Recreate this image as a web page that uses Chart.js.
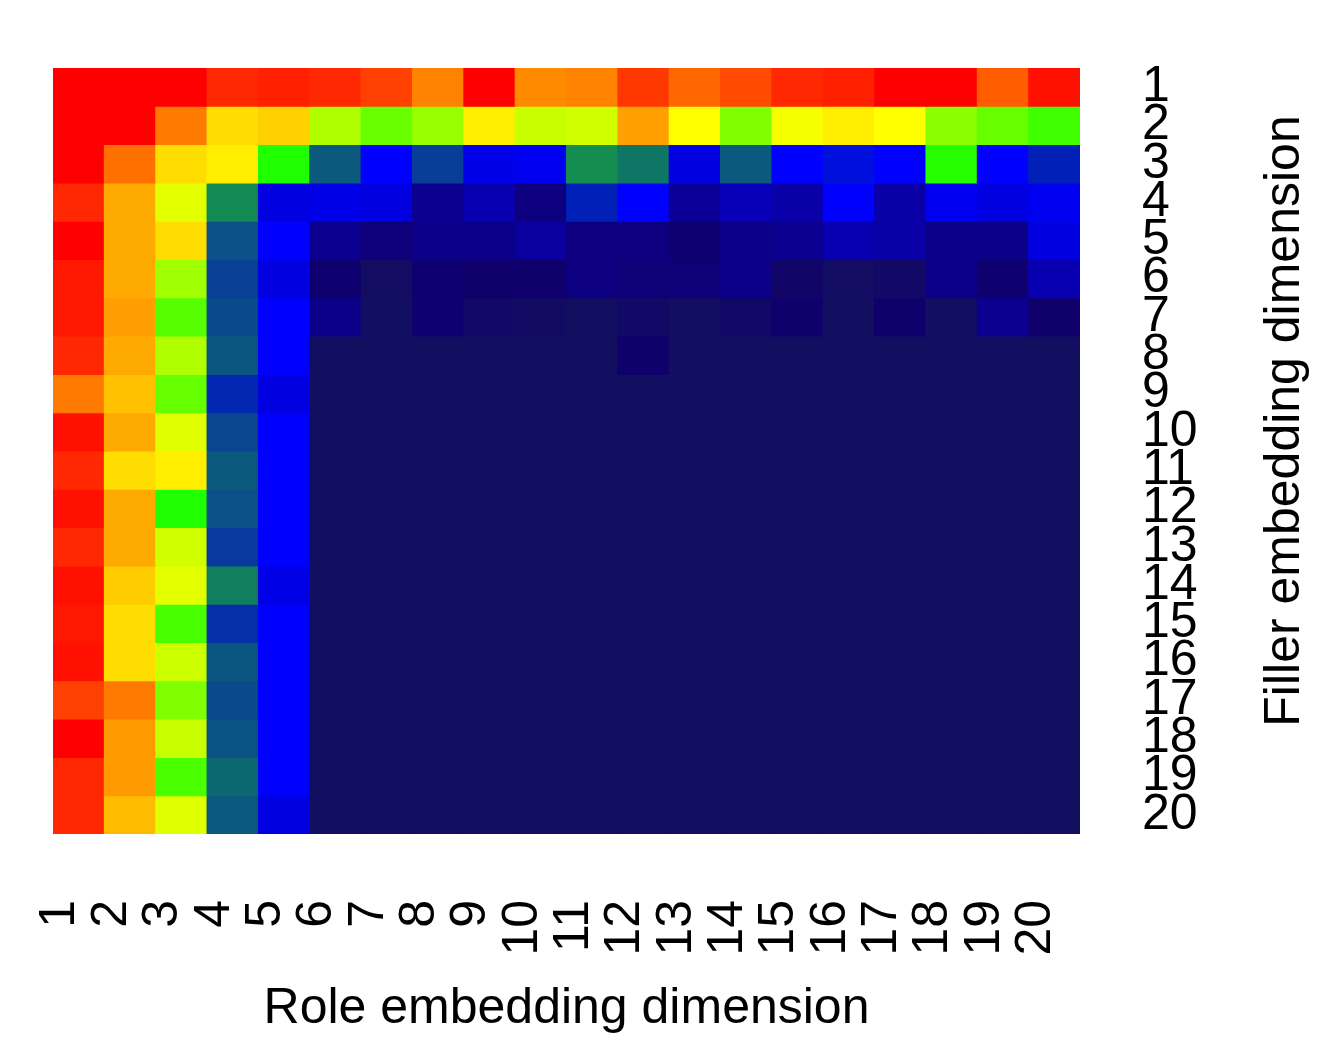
<!DOCTYPE html>
<html>
<head>
<meta charset="utf-8">
<script src="https://cdn.jsdelivr.net/npm/chart.js@4.4.1/dist/chart.umd.min.js"></script>
<style>
  html, body { margin: 0; padding: 0; background: #ffffff; }
  #wrap { width: 1318px; height: 1043px; position: relative; }
</style>
</head>
<body>
<div id="wrap"><canvas id="chart"></canvas></div>
<script>
// ---------------- data ----------------
const roleDims = [1,2,3,4,5,6,7,8,9,10,11,12,13,14,15,16,17,18,19,20];
const fillerDims = [1,2,3,4,5,6,7,8,9,10,11,12,13,14,15,16,17,18,19,20];
const roleTickLabels = ['1','2','3','4','5','6','7','8','9','10','11','12','13','14','15','16','17','18','19','20'];
const fillerTickLabels = ['1','2','3','4','5','6','7','8','9','10','11','12','13','14','15','16','17','18','19','20'];
const xTitle = 'Role embedding dimension';
const yTitle = 'Filler embedding dimension';

// rows = filler embedding dimension 1..20, columns = role embedding dimension 1..20 (relative score 0..100)
const heatValues = [
  [100,100,100,95,96,95,92,85,100,84,85,93,88,91,95,96,100,100,89,98],
  [100,100,86,74,75.5,60.5,55.4,58.8,71,62.4,63,81.2,68,57,67,71,68,57.7,55.2,52.3],
  [100,87,74,71,50,38,25,34,21.3,22.6,45,41.7,20,38,25,27.5,25,50.4,25,30],
  [95,80,65,44.5,20,21.3,20,10,14,7.6,30,25,11,15,13,25,13,22.6,20,22.6],
  [100,80,74,36.6,25,10,6.1,9,9,12,7.6,7.6,4.7,9,10,14,13,9,9,20],
  [97,80,59.4,34.3,20,4.7,0.5,4.7,4,4,7.6,6,6,9,2.5,0.5,1.5,9,4.7,14],
  [97,81.5,53.9,35.7,25,9,0,4.7,1.5,1,0,1.5,0,2,4,0,4,0,10,4],
  [95,80,60.6,37.3,25,0,0,0,0,0,0,4,0,0,0,0,0,0,0,0],
  [86,77.4,55,31,20,0,0,0,0,0,0,0,0,0,0,0,0,0,0,0],
  [98,80,64.7,35,25,0,0,0,0,0,0,0,0,0,0,0,0,0,0,0],
  [95,74,71,38,25,0,0,0,0,0,0,0,0,0,0,0,0,0,0,0],
  [98,80,50,36.6,25,0,0,0,0,0,0,0,0,0,0,0,0,0,0,0],
  [95,80,63,33.5,25,0,0,0,0,0,0,0,0,0,0,0,0,0,0,0],
  [98,76,65,43,21,0,0,0,0,0,0,0,0,0,0,0,0,0,0,0],
  [97,74,52.9,32,25,0,0,0,0,0,0,0,0,0,0,0,0,0,0,0],
  [98,74,62.7,37.3,25,0,0,0,0,0,0,0,0,0,0,0,0,0,0,0],
  [92,86,57,35.7,25,0,0,0,0,0,0,0,0,0,0,0,0,0,0,0],
  [100,82,62.4,36.9,25,0,0,0,0,0,0,0,0,0,0,0,0,0,0,0],
  [95,82,53,40,25,0,0,0,0,0,0,0,0,0,0,0,0,0,0,0],
  [95,78,64.7,37.7,20,0,0,0,0,0,0,0,0,0,0,0,0,0,0,0]
];

// ---------------- colour scale ----------------
const colorStops = [0, 4, 9, 14, 20, 25, 30, 35, 40, 45, 50, 57, 63, 68, 74, 80, 86, 92, 96, 100];
const stopColors = ['#120E60','#10006C','#0C0088','#0800B0','#0000E0','#0000FF','#0020B8','#0A4590',
                    '#0C6870','#148E50','#20FF00','#80FF00','#D0FF00','#FFFF00','#FFDD00','#FFAA00',
                    '#FF7A00','#FF4000','#FF2000','#FF0000'];

function hexToRgb(h) {
  return [parseInt(h.slice(1,3),16), parseInt(h.slice(3,5),16), parseInt(h.slice(5,7),16)];
}
function valueToColor(v) {
  if (v <= colorStops[0]) return stopColors[0];
  for (let i = 1; i < colorStops.length; i++) {
    if (v <= colorStops[i]) {
      const t = (v - colorStops[i-1]) / (colorStops[i] - colorStops[i-1]);
      const a = hexToRgb(stopColors[i-1]), b = hexToRgb(stopColors[i]);
      const c = a.map((x, k) => Math.round(x + (b[k] - x) * t));
      return 'rgb(' + c.join(',') + ')';
    }
  }
  return stopColors[stopColors.length - 1];
}

// ---------------- chart ----------------
const FONT = '"Liberation Sans", Arial, Helvetica, sans-serif';

const datasets = fillerDims.map((f, r) => ({
  label: 'Filler ' + f,
  data: roleDims.map(() => [f - 0.5, f + 0.5]),
  backgroundColor: heatValues[r].map(valueToColor),
  borderWidth: 0,
  grouped: false,
  categoryPercentage: 1,
  barPercentage: 1,
  inflateAmount: 0.5
}));

const yTitlePlugin = {
  id: 'yTitleRight',
  afterDraw(chart) {
    const { ctx, chartArea } = chart;
    ctx.save();
    ctx.translate(chart.width - 19, (chartArea.top + chartArea.bottom) / 2 - 30);
    ctx.rotate(-Math.PI / 2);
    ctx.font = '50px ' + FONT;
    ctx.fillStyle = '#000000';
    ctx.textAlign = 'center';
    ctx.textBaseline = 'alphabetic';
    ctx.fillText(yTitle, 0, 0);
    ctx.restore();
  }
};

function zeroPadding(scale) {
  scale.paddingTop = 0; scale.paddingBottom = 0;
  scale.paddingLeft = 0; scale.paddingRight = 0;
}

new Chart(document.getElementById('chart'), {
  type: 'bar',
  data: { labels: roleTickLabels, datasets },
  plugins: [yTitlePlugin],
  options: {
    responsive: true,
    maintainAspectRatio: false,
    animation: false,
    layout: { padding: { left: 53, top: 68, right: 0, bottom: 0 } },
    plugins: { legend: { display: false }, tooltip: { enabled: false } },
    scales: {
      x: {
        type: 'category',
        offset: true,
        grid: { display: false, drawTicks: false },
        border: { display: false },
        ticks: {
          autoSkip: false, minRotation: 90, maxRotation: 90,
          padding: 66, labelOffset: -18, color: '#000000',
          font: { family: FONT, size: 50 }
        },
        title: {
          display: true, text: xTitle, color: '#000000',
          font: { family: FONT, size: 50 },
          padding: { top: 0, bottom: 4 }
        },
        afterFit(scale) { scale.height = 209; zeroPadding(scale); }
      },
      y: {
        type: 'linear',
        position: 'right',
        reverse: true,
        min: 0.5,
        max: 20.5,
        grid: { display: false, drawTicks: false },
        border: { display: false },
        afterBuildTicks(scale) { scale.ticks = fillerDims.map(v => ({ value: v })); },
        ticks: {
          autoSkip: false, padding: 62, color: '#000000',
          font: { family: FONT, size: 50 },
          callback: (v, i) => fillerTickLabels[i]
        },
        afterFit(scale) { scale.width = 238; zeroPadding(scale); }
      }
    }
  }
});
</script>
</body>
</html>
